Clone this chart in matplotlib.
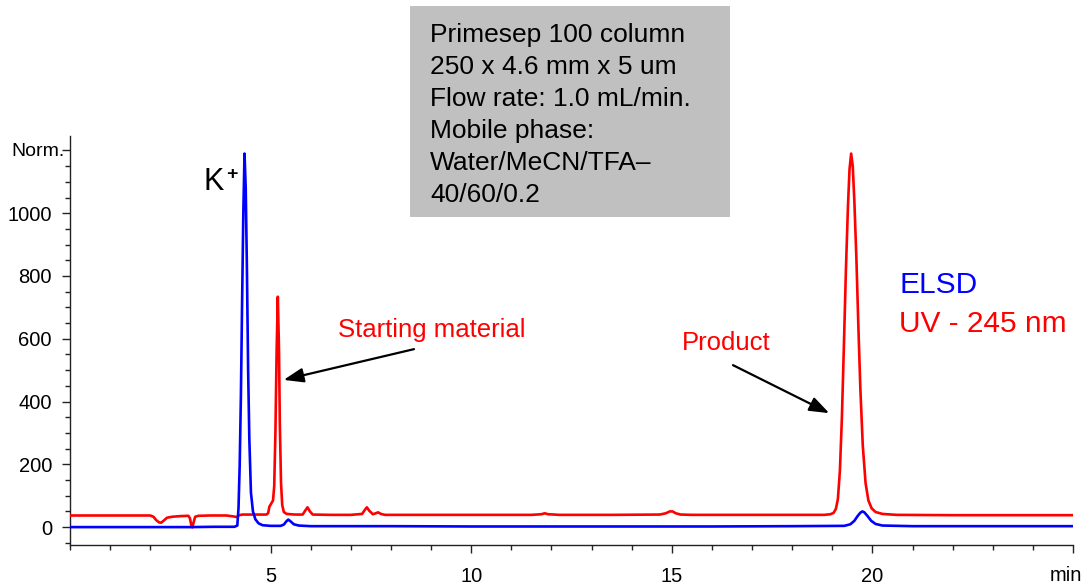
import matplotlib
matplotlib.use("Agg")
import matplotlib.pyplot as plt
from matplotlib.ticker import MultipleLocator, FixedLocator
from matplotlib.patches import Rectangle

plt.rcParams['font.family'] = ['Liberation Sans', 'DejaVu Sans']

# ---- data (retention time in min, detector response) ----
elsd_t = [0.0, 1.0, 2.0, 3.0, 3.6, 4.10, 4.17, 4.20, 4.23, 4.26, 4.29, 4.32, 4.35, 4.38, 4.41, 4.44, 4.47, 4.51, 4.56, 4.62, 4.70, 4.80, 5.0,
          5.25, 5.33, 5.39, 5.44, 5.50, 5.58, 5.70, 6.0, 8.0, 10.0, 12.0, 14.0, 16.0, 18.0, 19.3,
          19.45, 19.55, 19.63, 19.70, 19.75, 19.80, 19.88, 19.97, 20.08, 20.25, 21.0, 23.0, 25.0]
elsd_v = [0, 0, 0, 0, 1, 1, 5, 60, 200, 420, 720, 1000, 1190, 1080, 820, 500, 280, 110, 50, 25, 12, 6, 4,
          4, 8, 18, 24, 18, 9, 5, 3, 3, 2, 2, 2, 2, 3, 4,
          9, 20, 35, 46, 50, 47, 35, 20, 10, 5, 3, 3, 3]

uv_t = [0.0, 1.0, 2.0, 2.08, 2.15, 2.22, 2.27, 2.33, 2.42, 2.55, 2.75, 2.95,
        2.99, 3.02, 3.05, 3.08, 3.12, 3.20, 3.5, 3.9, 4.08, 4.15, 4.22, 4.30, 4.6,
        4.90, 4.94, 4.97, 5.02, 5.06, 5.09, 5.12, 5.15, 5.18, 5.21, 5.23, 5.26, 5.29, 5.33, 5.40,
        5.6, 5.80, 5.86, 5.92, 5.98, 6.05, 6.5, 7.0, 7.28, 7.35, 7.40, 7.46, 7.55, 7.62, 7.68, 7.75, 7.85, 8.5,
        10.0, 11.5, 11.75, 11.83, 11.92, 12.2, 13.5, 14.7, 14.85, 14.95, 15.02, 15.10, 15.22, 15.5, 17.0, 18.5,
        18.8, 18.95, 19.03, 19.09, 19.14, 19.19, 19.24, 19.29, 19.34, 19.39, 19.43, 19.47, 19.51, 19.55, 19.60,
        19.65, 19.70, 19.76, 19.83, 19.90, 19.98, 20.08, 20.25, 20.6, 22.0, 25.0]
uv_v = [37, 37, 37, 33, 22, 15, 14, 20, 30, 33, 35, 36,
        28, 8, -1, 15, 33, 36, 37, 37, 34, 32, 38, 40, 40,
        40, 45, 65, 76, 85, 130, 300, 560, 734, 560, 330, 140, 70, 48, 42,
        40, 40, 52, 63, 50, 40, 39, 39, 42, 55, 63, 52, 41, 44, 47, 42, 39, 39,
        39, 39, 41, 44, 41, 39, 39, 40, 44, 50, 50, 44, 40, 39, 39, 39,
        39, 41, 45, 58, 90, 180, 350, 580, 820, 1020, 1140, 1190, 1150, 1040, 860,
        640, 440, 260, 140, 85, 60, 48, 42, 39, 38, 38]

y_ticks = [0, 200, 400, 600, 800, 1000, 1200]
y_labels = ['0', '200', '400', '600', '800', '1000', '']
x_ticks = [5, 10, 15, 20, 25]
x_labels = ['5', '10', '15', '20', '']

box_lines = ["Primesep 100 column", "250 x 4.6 mm x 5 um", "Flow rate: 1.0 mL/min.",
             "Mobile phase:", "Water/MeCN/TFA\u2013", "40/60/0.2"]

W, H = 1090, 587
fig = plt.figure(figsize=(W / 100, H / 100), dpi=100)
ax = fig.add_axes([70 / W, 1 - 545 / H, (1073 - 70) / W, (545 - 136) / H])

ax.plot(uv_t, uv_v, color='#ff0000', lw=1.9, solid_joinstyle='round', zorder=3)
ax.plot(elsd_t, elsd_v, color='#0000ff', lw=1.9, solid_joinstyle='round', zorder=3)

ax.set_xlim(0, 25)
ax.set_ylim(-57, 1246)

for s in ['top', 'right']:
    ax.spines[s].set_visible(False)
for s in ['left', 'bottom']:
    ax.spines[s].set_color('#222222')
    ax.spines[s].set_linewidth(1.0)

ax.xaxis.set_major_locator(FixedLocator(x_ticks))
ax.set_xticklabels(x_labels)
ax.xaxis.set_minor_locator(MultipleLocator(1))
ax.yaxis.set_major_locator(FixedLocator(y_ticks))
ax.set_yticklabels(y_labels)
ax.yaxis.set_minor_locator(MultipleLocator(50))

ax.tick_params(axis='both', which='major', length=6, width=1, color='#222222', labelsize=14.5)
ax.tick_params(axis='both', which='minor', length=3.5, width=1, color='#222222')
ax.tick_params(axis='x', which='major', pad=10)
ax.tick_params(axis='y', which='major', pad=7)

# axis unit labels
ax.annotate('min', xy=(24.83, 0), xycoords=('data', 'axes fraction'),
            xytext=(0, -15.2), textcoords='offset points', ha='center', va='top', fontsize=14.5)
ax.annotate('Norm.', xy=(0, 1200), xycoords=('axes fraction', 'data'),
            xytext=(-3.6, -3.8), textcoords='offset points', ha='right', va='baseline', fontsize=14)

# peak labels
ax.text(3.325, 1074, 'K', fontsize=22, ha='left', va='baseline', color='black')
ax.text(4.03, 1122, '+', fontsize=14, fontweight='bold', ha='center', va='center', color='black')

ax.text(6.675, 606, 'Starting material', fontsize=18.5, color='#ff0000', ha='left', va='baseline')
ax.text(15.25, 564, 'Product', fontsize=18.5, color='#ff0000', ha='left', va='baseline')
ax.text(20.675, 746, 'ELSD', fontsize=21.5, color='#0000ff', ha='left', va='baseline')
ax.text(20.675, 622, 'UV - 245 nm', fontsize=21.5, color='#ff0000', ha='left', va='baseline')

arrow_style = dict(arrowstyle='-|>,head_length=0.6,head_width=0.22', color='black',
                   lw=1.6, mutation_scale=20, shrinkA=0, shrinkB=0)
ax.annotate('', xy=(5.325, 469), xytext=(8.575, 567), arrowprops=arrow_style)
ax.annotate('', xy=(18.925, 363), xytext=(16.525, 516), arrowprops=arrow_style)

# conditions box
fig.patches.append(Rectangle((410 / W, 1 - 217 / H), 320 / W, 211 / H,
                             transform=fig.transFigure, facecolor='#c0c0c0',
                             edgecolor='none', zorder=5))
for i, line in enumerate(box_lines):
    fig.text(430 / W, 1 - (41.7 + 32 * i) / H, line, fontsize=19, ha='left',
             va='baseline', color='black', zorder=6)

fig.savefig('out.png', dpi=100)
